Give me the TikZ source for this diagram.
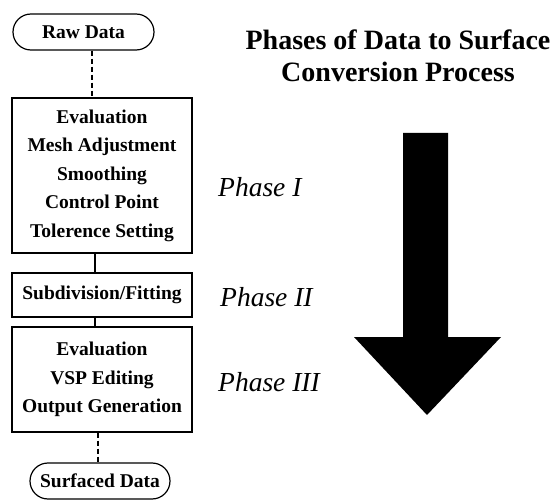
\documentclass[tikz,border=0pt]{standalone}
\usepackage{fontspec}
\setmainfont{Liberation Serif}
\begin{document}
\begin{tikzpicture}[x=1pt,y=-1pt,
  boxtext/.style={font=\bfseries\fontsize{19.5}{28.5}\selectfont},
  procbox/.style={draw,line width=1.2pt,rectangle,boxtext,align=center,inner sep=0pt,minimum width=180pt},
  pill/.style={draw,line width=1.2pt,rounded corners=18pt,boxtext,inner sep=0pt,minimum height=36pt},
  phase/.style={font=\itshape\fontsize{27.5}{30}\selectfont,anchor=west,inner sep=0pt},
  conn/.style={line width=1.1pt},
  dconn/.style={line width=1.1pt,dash pattern=on 5pt off 3pt}]
\useasboundingbox (0,0) rectangle (555,500);
% left column
\node[pill,minimum width=141pt] (raw) at (83.5,32) {Raw Data};
\node[procbox,minimum height=155pt] (b1) at (102,175.5) {Evaluation\\Mesh Adjustment\\Smoothing\\Control Point\\Tolerence Setting};
\node[procbox,minimum height=44pt] (b2) at (102,295) {Subdivision/Fitting};
\node[procbox,minimum height=105pt] (b3) at (102,379.5) {Evaluation\\VSP Editing\\Output Generation};
\node[pill,minimum width=140pt] (surf) at (100,481) {Surfaced Data};
\coordinate (l1) at (92,0);
\coordinate (l2) at (95,0);
\coordinate (l3) at (98,0);
\draw[dconn] (raw.south -| l1) -- (b1.north -| l1);
\draw[conn] (b1.south -| l2) -- (b2.north -| l2);
\draw[conn] (b2.south -| l2) -- (b3.north -| l2);
\draw[dconn] (b3.south -| l3) -- (surf.north -| l3);
% title
\node[font=\bfseries\fontsize{28}{32}\selectfont,align=center,inner sep=0pt] (title) at (398,56) {Phases of Data to Surface\\Conversion Process};
% phases
\node[phase] (p1) at (218,187) {Phase I};
\node[phase] (p2) at (220,297) {Phase II};
\node[phase] (p3) at (218,382) {Phase III};
% big arrow
\fill (403,133) -- (448,133) -- (448,337) -- (501,337) -- (427,415) -- (354,337) -- (403,337) -- cycle;
\end{tikzpicture}
\end{document}
